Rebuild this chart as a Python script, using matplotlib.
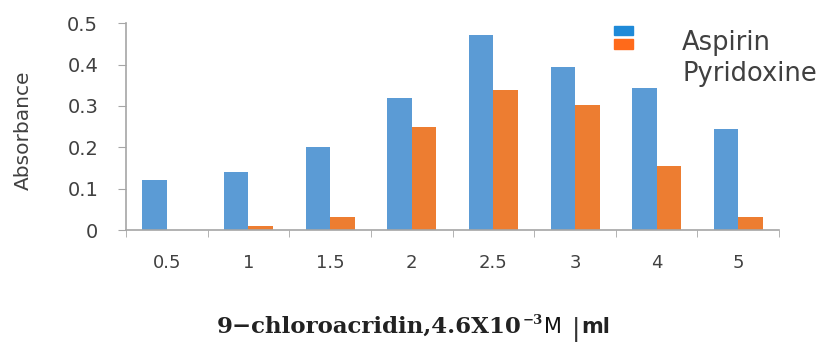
import matplotlib
matplotlib.use("Agg")
import matplotlib.pyplot as plt
import numpy as np
from matplotlib.patches import Rectangle

categories = ["0.5", "1", "1.5", "2", "2.5", "3", "4", "5"]
aspirin = [0.121, 0.140, 0.201, 0.320, 0.472, 0.395, 0.343, 0.244]
pyridoxine = [0.0, 0.010, 0.032, 0.249, 0.338, 0.302, 0.156, 0.032]
series_names = ["Aspirin", "Pyridoxine"]
yticks = [0, 0.1, 0.2, 0.3, 0.4, 0.5]
ytick_labels = ["0", "0.1", "0.2", "0.3", "0.4", "0.5"]

blue = "#5B9BD5"
orange = "#ED7D31"
gray = "#A6A6A6"
txt = "#404040"

fig = plt.figure(figsize=(8.21, 3.45), dpi=100)
ax = fig.add_axes([0.1535, 0.3333, 0.7955, 0.5992])

x = np.arange(len(categories))
w = 0.3
ax.bar(x - w / 2, aspirin, width=w, color=blue)
ax.bar(x + w / 2, pyridoxine, width=w, color=orange)

ax.set_xlim(-0.5, len(categories) - 0.5)
ax.set_ylim(0, 0.5)
ax.set_yticks(yticks)
ax.set_yticklabels(ytick_labels, fontsize=14, color=txt)
ax.set_xticks(x)
ax.set_xticklabels(categories, fontsize=13, color=txt)
ax.tick_params(axis="x", which="major", length=0, pad=17)
ax.set_xticks(np.arange(-0.5, len(categories)), minor=True)
ax.tick_params(axis="x", which="minor", length=5, color=gray, direction="out")
ax.tick_params(axis="y", length=6, color=gray, pad=14)
for s in ["top", "right"]:
    ax.spines[s].set_visible(False)
for s in ["left", "bottom"]:
    ax.spines[s].set_color(gray)
    ax.spines[s].set_linewidth(1.2)

fig.text(23 / 821, 1 - 130 / 345, "Absorbance", rotation=90, ha="center", va="center",
         fontsize=14.5, color=txt)

# legend
fig.patches.append(Rectangle((614 / 821, 1 - 35 / 345), 19 / 821, 9 / 345,
                             transform=fig.transFigure, color="#1F8AD8"))
fig.patches.append(Rectangle((614 / 821, 1 - 49 / 345), 19 / 821, 10 / 345,
                             transform=fig.transFigure, color="#FF6A1A"))
fig.text(682 / 821, 1 - 43 / 345, series_names[0], fontsize=18.5, color=txt,
         ha="left", va="center")
fig.text(682 / 821, 1 - 74 / 345, series_names[1], fontsize=18.5, color=txt,
         ha="left", va="center")

# x label built from pieces placed one after another
renderer = fig.canvas.get_renderer()
pieces = [
    ("9\u2212chloroacridin,4.6X10", dict(fontsize=16.5, fontweight="bold", family="DejaVu Serif", color="#222222"), 0, 1),
    ("\u22123", dict(fontsize=9.5, fontweight="bold", family="DejaVu Serif", color="#222222"), 9, 1),
    ("M", dict(fontsize=15, family="DejaVu Sans", color="#111111"), 0, 10),
    ("|", dict(fontsize=18, family="DejaVu Sans", color="#333333"), -3, 1),
    ("ml", dict(fontsize=15, fontweight="bold", family="DejaVu Sans", color="#222222"), 0, 1),
]
xpos = 217.0
base_y = 345 - 333.0
for s, kw, dy, gap in pieces:
    t = fig.text(xpos / 821, (base_y + dy) / 345, s, ha="left", va="baseline", **kw)
    bb = t.get_window_extent(renderer=renderer)
    xpos = bb.x1 + gap

fig.savefig("out.png", dpi=100)
